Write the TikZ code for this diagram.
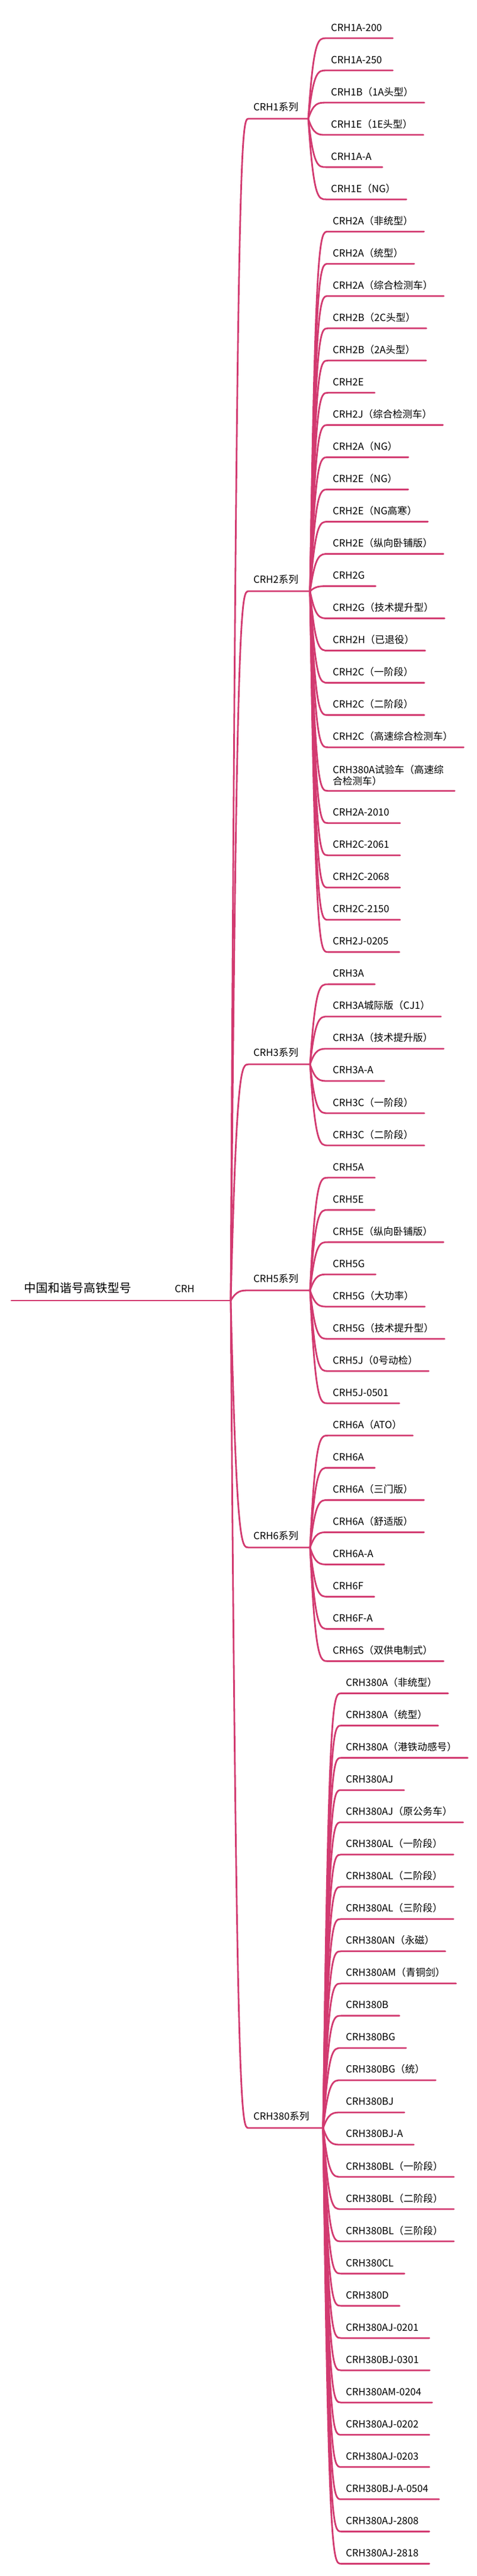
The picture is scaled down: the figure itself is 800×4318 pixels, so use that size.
\documentclass[tikz,border=0pt]{standalone}
\usepackage{fontspec}
\setmainfont{Noto Sans CJK SC}
\usetikzlibrary{calc}
\definecolor{lc}{RGB}{210,58,112}
\tikzset{
  conn/.style={draw=lc,line width=2.8pt,line cap=round,line join=round},
  leaftxt/.style={inner sep=0pt,font=\fontsize{16.5}{20}\selectfont,anchor=base west},
  midtxt/.style={inner sep=0pt,font=\fontsize{16.5}{20}\selectfont,anchor=base west},
  roottxt/.style={inner sep=0pt,font=\fontsize{20}{24}\selectfont,anchor=base west}
}
\newcommand\leafpos[1]{\pgfmathsetmacro\yy{64+54.03*#1+(#1>22?19:0)}}
\newcommand\leaf[5]{%
  \leafpos{#4}%
  \coordinate (#1s) at (#3,\yy);
  \node[leaftxt] (#1) at ($(#1s)+(8,-12)$) {#5};
  \draw[conn] let \p1=(#2), \p2=(#1s) in (#2) .. controls (\x1+0.3*\x2-0.3*\x1,\y2) and (\x1+0.55*\x2-0.55*\x1,\y2) .. (#1s) -- ([xshift=18pt]#1s -| #1.east);
}
\newcommand\midbranch[4]{%
  \coordinate (#1s) at (417,#2);
  \coordinate (#1e) at (#3,#2);
  \node[midtxt] (#1) at ($(#1s)+(8,-14)$) {#4};
  \draw[conn] let \p1=(root), \p2=(#1s) in (root) .. controls (\x1+0.33*\x2-0.33*\x1,\y2) and (\x1+0.6*\x2-0.6*\x1,\y2) .. (#1s) -- (#1e);
}
\begin{document}
\begin{tikzpicture}[x=1pt,y=-1pt]
\useasboundingbox (0,0) rectangle (800,4318);
\coordinate (rs) at (19,2180);
\coordinate (root) at (387,2180);
\node[roottxt] (title) at (40,2166) {中国和谐号高铁型号};
\node[midtxt] (crh) at (293,2166) {CRH};
\draw[conn] (rs) -- (root);
\midbranch{g1}{199}{517}{CRH1系列}
\midbranch{g2}{991}{520}{CRH2系列}
\midbranch{g3}{1784}{520}{CRH3系列}
\midbranch{g5}{2163}{520}{CRH5系列}
\midbranch{g6}{2594}{520}{CRH6系列}
\midbranch{g8}{3567}{542}{CRH380系列}
\foreach \t [count=\k from 0] in {CRH1A-200,CRH1A-250,CRH1B（1A头型）,CRH1E（1E头型）,CRH1A-A,CRH1E（NG）}
  {\leaf{L\k}{g1e}{547}{\k}{\t}}
\foreach \t [count=\k from 6] in {CRH2A（非统型）,CRH2A（统型）,CRH2A（综合检测车）,CRH2B（2C头型）,CRH2B（2A头型）,CRH2E,CRH2J（综合检测车）,CRH2A（NG）,CRH2E（NG）,CRH2E（NG高寒）,CRH2E（纵向卧铺版）,CRH2G,CRH2G（技术提升型）,CRH2H（已退役）,CRH2C（一阶段）,CRH2C（二阶段）,CRH2C（高速综合检测车）}
  {\leaf{L\k}{g2e}{550}{\k}{\t}}
\leafpos{23}
\coordinate (L23s) at (550,\yy);
\node[inner sep=0pt,font=\fontsize{16.5}{19}\selectfont,align=left,anchor=south west] (L23) at ($(L23s)+(8,-8)$) {CRH380A试验车（高速综\\合检测车）};
\draw[conn] let \p1=(g2e), \p2=(L23s) in (g2e) .. controls (\x1+0.3*\x2-0.3*\x1,\y2) and (\x1+0.55*\x2-0.55*\x1,\y2) .. (L23s) -- ([xshift=18pt]L23s -| L23.east);
\foreach \t [count=\k from 24] in {CRH2A-2010,CRH2C-2061,CRH2C-2068,CRH2C-2150,CRH2J-0205}
  {\leaf{L\k}{g2e}{550}{\k}{\t}}
\foreach \t [count=\k from 29] in {CRH3A,CRH3A城际版（CJ1）,CRH3A（技术提升版）,CRH3A-A,CRH3C（一阶段）,CRH3C（二阶段）}
  {\leaf{L\k}{g3e}{550}{\k}{\t}}
\foreach \t [count=\k from 35] in {CRH5A,CRH5E,CRH5E（纵向卧铺版）,CRH5G,CRH5G（大功率）,CRH5G（技术提升型）,CRH5J（0号动检）,CRH5J-0501}
  {\leaf{L\k}{g5e}{550}{\k}{\t}}
\foreach \t [count=\k from 43] in {CRH6A（ATO）,CRH6A,CRH6A（三门版）,CRH6A（舒适版）,CRH6A-A,CRH6F,CRH6F-A,CRH6S（双供电制式）}
  {\leaf{L\k}{g6e}{550}{\k}{\t}}
\foreach \t [count=\k from 51] in {CRH380A（非统型）,CRH380A（统型）,CRH380A（港铁动感号）,CRH380AJ,CRH380AJ（原公务车）,CRH380AL（一阶段）,CRH380AL（二阶段）,CRH380AL（三阶段）,CRH380AN（永磁）,CRH380AM（青铜剑）,CRH380B,CRH380BG,CRH380BG（统）,CRH380BJ,CRH380BJ-A,CRH380BL（一阶段）,CRH380BL（二阶段）,CRH380BL（三阶段）,CRH380CL,CRH380D,CRH380AJ-0201,CRH380BJ-0301,CRH380AM-0204,CRH380AJ-0202,CRH380AJ-0203,CRH380BJ-A-0504,CRH380AJ-2808,CRH380AJ-2818}
  {\leaf{L\k}{g8e}{572}{\k}{\t}}
\end{tikzpicture}
\end{document}
